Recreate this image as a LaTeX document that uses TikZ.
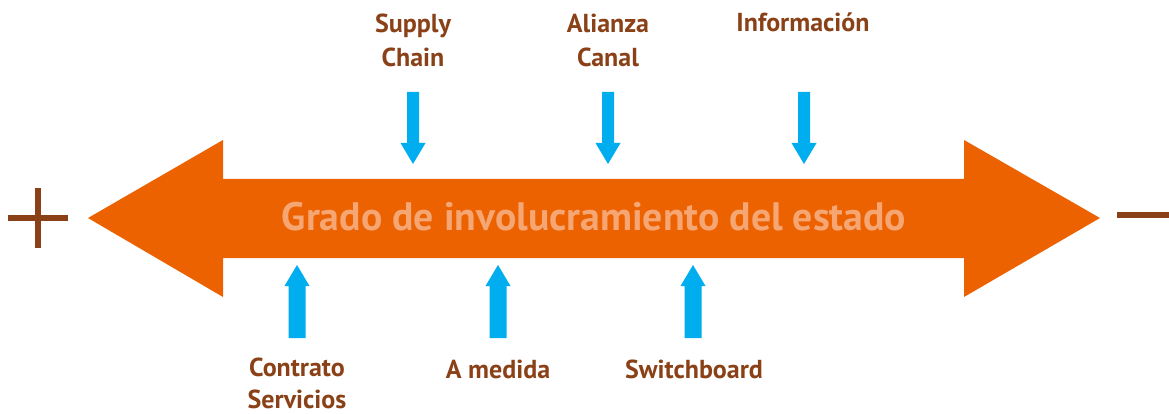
\documentclass[tikz,border=0pt]{standalone}
\usepackage{fontspec}
\setmainfont{PT Sans}
\definecolor{arroworange}{HTML}{EC6100}
\definecolor{peach}{HTML}{F5A673}
\definecolor{skyblue}{HTML}{00AEEF}
\definecolor{brownlbl}{HTML}{8A4117}
\tikzset{
  lbl/.style={text=brownlbl, font=\bfseries\fontsize{26}{34.5}\selectfont, align=center, inner sep=0pt, anchor=base},
  dnarrow/.pic={\fill[skyblue] (-6,0) -- (6,0) -- (6,51) -- (12.5,51) -- (0,72) -- (-12.5,51) -- (-6,51) -- cycle;},
  uparrow/.pic={\fill[skyblue] (0,0) -- (12.5,21) -- (8.5,21) -- (8.5,73) -- (-8.5,73) -- (-8.5,21) -- (-12.5,21) -- cycle;},
  signbar/.style={draw=brownlbl, line width=6pt}
}
\begin{document}
\begin{tikzpicture}[x=1pt,y=-1pt]
\useasboundingbox (0,0) rectangle (1169,414);
% big double arrow
\fill[arroworange] (88,218) -- (223,140) -- (223,179) -- (964,179) -- (964,140) -- (1100,218)
  -- (964,297) -- (964,258) -- (223,258) -- (223,297) -- cycle;
\node[text=peach, font=\bfseries\fontsize{39.7}{42}\selectfont, inner sep=0pt, anchor=base] (title) at (594,230) {Grado de involucramiento del estado};
% plus and minus
\coordinate (pl) at (8,218); \coordinate (pr) at (68,218);
\coordinate (pt) at (38,188); \coordinate (pb) at (38,248);
\draw[signbar] (pl) -- (pr);
\draw[signbar] (pt) -- (pb);
\coordinate (ml) at (1117,215); \coordinate (mr) at (1169,215);
\draw[signbar] (ml) -- (mr);
% top labels and arrows
\node[lbl] (supply) at (413,67) {Supply\\Chain};
\node[lbl] (alianza) at (608,67) {Alianza\\Canal};
\node[lbl] (info) at (803,32) {Información};
\pic at (413,92) {dnarrow};
\pic at (608,92) {dnarrow};
\pic at (804,92) {dnarrow};
% bottom labels and arrows
\pic at (297,265) {uparrow};
\pic at (498,265) {uparrow};
\pic at (693,265) {uparrow};
\node[lbl, font=\bfseries\fontsize{26}{32}\selectfont] (contrato) at (297,408) {Contrato\\Servicios};
\node[lbl] (medida) at (498,378) {A medida};
\node[lbl] (switch) at (694,378) {Switchboard};
\end{tikzpicture}
\end{document}
